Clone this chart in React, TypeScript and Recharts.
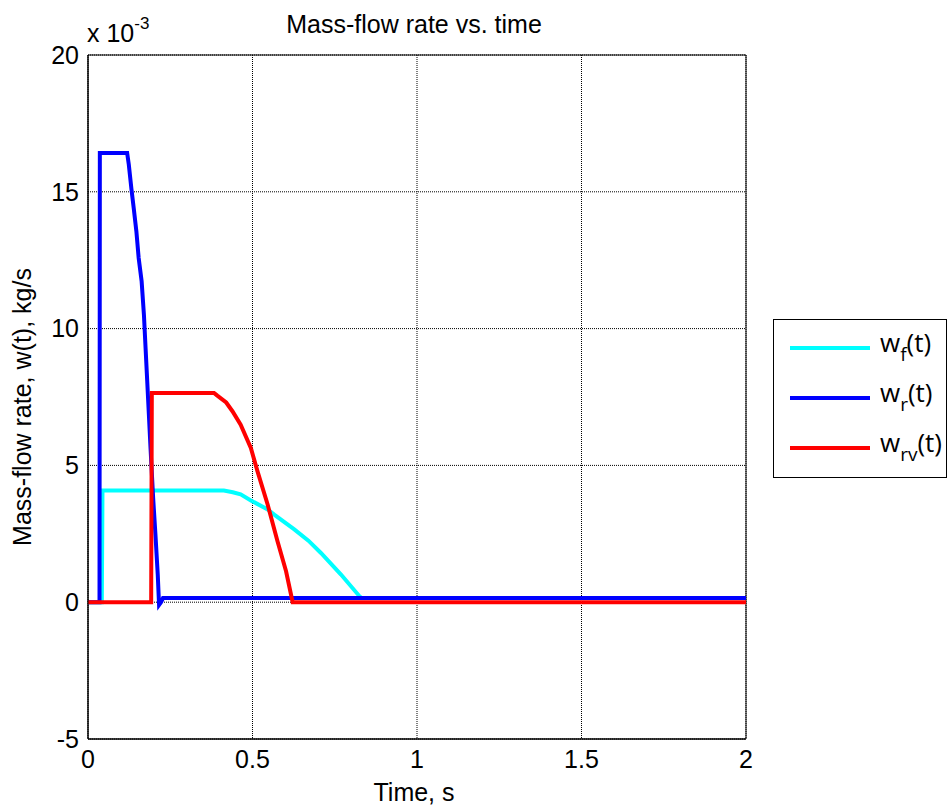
import React from 'react';
import { LineChart, Line, XAxis, YAxis, CartesianGrid, ReferenceArea } from 'recharts';

const timeTicks = [0, 0.5, 1, 1.5, 2];
const rateTicks = [-5, 0, 5, 10, 15, 20];

// rates are in units of 1e-3 kg/s (the axis carries the x 10^-3 factor)
const wfTime = [0, 0.042, 0.044, 0.413, 0.44, 0.464, 0.495, 0.546, 0.566, 0.627, 0.67, 0.708, 0.769, 0.825, 0.832, 2];
const wfRate = [0, 0, 4.08, 4.08, 4.02, 3.94, 3.72, 3.39, 3.2, 2.66, 2.25, 1.8, 1.01, 0.22, 0.15, 0.15];

const wrTime = [0, 0.035, 0.036, 0.119, 0.124, 0.132, 0.139, 0.147, 0.154, 0.163, 0.17, 0.175, 0.18, 0.185, 0.19, 0.198, 0.205, 0.212, 0.216, 0.222, 0.228, 2];
const wrRate = [0, 0, 16.42, 16.42, 16.0, 15.1, 14.4, 13.56, 12.58, 11.73, 10.5, 9.29, 8.08, 6.86, 5.64, 3.81, 2.47, 1.01, -0.1, 0.0, 0.15, 0.15];

const wrvTime = [0, 0.192, 0.194, 0.383, 0.393, 0.42, 0.439, 0.464, 0.495, 0.515, 0.546, 0.576, 0.602, 0.622, 2];
const wrvRate = [0, 0, 7.65, 7.65, 7.55, 7.3, 6.98, 6.49, 5.64, 4.79, 3.57, 2.23, 1.13, 0, 0];

const toPoints = (t: number[], w: number[]) => t.map((x, i) => ({ t: x, w: w[i] }));

const series = [
  { key: 'wf', sub: 'f', color: '#00ffff', data: toPoints(wfTime, wfRate) },
  { key: 'wr', sub: 'r', color: '#0000ff', data: toPoints(wrTime, wrRate) },
  { key: 'wrv', sub: 'rv', color: '#ff0000', data: toPoints(wrvTime, wrvRate) },
];

const font = 'Arial, "Liberation Sans", sans-serif';
const tickStyle = { fill: '#000', fontSize: 25, fontFamily: font };
const labelStyle: React.CSSProperties = {
  position: 'absolute',
  whiteSpace: 'nowrap',
  fontSize: 25,
  lineHeight: '25px',
};

const App: React.FC = () => {
  return (
    <div style={{ position: 'absolute', left: 0, top: 0, width: 949, height: 810, background: '#fff', fontFamily: font }}>
      <LineChart width={949} height={810} margin={{ top: 55, right: 203, left: 10, bottom: 31 }}>
        <CartesianGrid stroke="#000" strokeDasharray="1 1" fill="none" />
        <ReferenceArea x1={0} x2={2} y1={-5} y2={20} fill="none" stroke="#000" strokeWidth={1} />
        <XAxis
          dataKey="t"
          type="number"
          domain={[0, 2]}
          ticks={timeTicks}
          allowDataOverflow
          height={40}
          tickLine={false}
          tickSize={0}
          tickMargin={11}
          axisLine={{ stroke: '#000' }}
          tick={tickStyle}
        />
        <YAxis
          type="number"
          domain={[-5, 20]}
          ticks={rateTicks}
          allowDataOverflow
          width={78}
          tickLine={false}
          tickSize={0}
          tickMargin={9}
          axisLine={{ stroke: '#000' }}
          tick={tickStyle}
        />
        {series.map((s) => (
          <Line
            key={s.key}
            data={s.data}
            dataKey="w"
            type="linear"
            stroke={s.color}
            strokeWidth={4}
            dot={false}
            activeDot={false}
            isAnimationActive={false}
          />
        ))}
      </LineChart>

      {/* title and axis labels */}
      <div style={{ ...labelStyle, left: 414, top: 12, transform: 'translateX(-50%)' }}>
        Mass-flow rate vs. time
      </div>
      <div style={{ ...labelStyle, left: 87, top: 21 }}>
        x 10<sup style={{ fontSize: 17, position: 'relative', top: -4, lineHeight: 0 }}>-3</sup>
      </div>
      <div style={{ ...labelStyle, left: 414, top: 780, transform: 'translateX(-50%)' }}>
        Time, s
      </div>
      <div style={{ ...labelStyle, left: 22, top: 407, transform: 'translate(-50%, -50%) rotate(-90deg)' }}>
        Mass-flow rate, w(t), kg/s
      </div>

      {/* legend */}
      <div style={{ position: 'absolute', left: 773, top: 319, width: 172, height: 157, border: '1px solid #000', background: '#fff', fontFamily: '"Open Sans", sans-serif' }}>
        {series.map((s, i) => (
          <div key={s.key} style={{ position: 'absolute', left: 0, top: 14 + i * 50, height: 28, width: 172 }}>
            <svg width={100} height={28} style={{ position: 'absolute', left: 0, top: 0 }}>
              <line x1={16} x2={96} y1={14} y2={14} stroke={s.color} strokeWidth={4} />
            </svg>
            <div style={{ position: 'absolute', left: 106, top: -8, fontSize: 26, lineHeight: '32px', whiteSpace: 'nowrap' }}>
              w<sub style={{ fontSize: 19, position: 'relative', top: 3, verticalAlign: 'sub', lineHeight: 0 }}>{s.sub}</sub>(t)
            </div>
          </div>
        ))}
      </div>
    </div>
  );
};

export default App;
